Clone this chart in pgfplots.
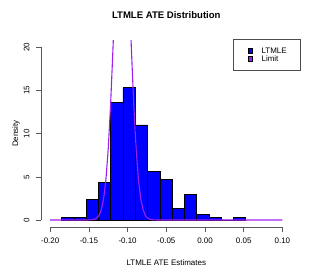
\documentclass[border=0pt]{standalone}
\usepackage{fontspec}
\setmainfont{Liberation Sans}
\usepackage{pgfplots}
\pgfplotsset{compat=1.18}
\definecolor{rpurple}{HTML}{A020F0}
\begin{document}
\begin{tikzpicture}
\useasboundingbox (0,0) rectangle (313bp,278bp);
\begin{axis}[
  at={(40.9bp,51.1bp)}, anchor=south west,
  scale only axis, width=250.8bp, height=186.6bp,
  xmin=-0.212, xmax=0.112, ymin=-0.8, ymax=20.8,
  clip mode=individual,
  axis line style={draw=none},
  xtick={-0.2,-0.15,-0.1,-0.05,0,0.05,0.1},
  ytick={0,5,10,15,20},
  xtick pos=bottom, ytick pos=left, tick align=outside,
  major tick length=5bp,
  tick style={black!65, line width=0.5pt},
  /pgf/number format/assume math mode=true,
  x tick label style={/pgf/number format/.cd, fixed, fixed zerofill, precision=2, /tikz/.cd, yshift=-3bp},
  every tick label/.append style={font=\fontsize{8}{9}\selectfont},
  yticklabel style={xshift=-3bp, rotate=90, anchor=south},
  xlabel={LTMLE ATE Estimates}, ylabel={Density},
  title={LTMLE ATE Distribution},
  label style={font=\fontsize{8}{9}\selectfont},
  xlabel style={at={(axis description cs:0.5,-0.19)}, anchor=center},
  ylabel style={at={(axis description cs:-0.0993,0.5)}, anchor=center},
  title style={at={(axis description cs:0.5,1.105)}, anchor=center, font=\fontsize{9.6}{11}\selectfont\bfseries},
  legend style={at={(axis description cs:1.037,1.007)}, anchor=north east,
    draw=black!70, line width=0.5pt, inner xsep=14bp, inner ysep=8.5bp,
    font=\fontsize{8}{9}\selectfont,
    nodes={inner sep=0pt, anchor=west, text height=5.8bp, text depth=0pt},
    column sep=9bp, row sep=2.5bp},
]
\addplot[ybar interval, fill=blue, draw=black, line width=0.5pt, forget plot] coordinates {
(-0.1852,0.31) (-0.1694,0.31) (-0.1535,2.36) (-0.1377,4.32) (-0.1218,13.62)
(-0.1060,15.31) (-0.0901,11.0) (-0.0743,5.67) (-0.0584,4.67) (-0.0426,1.31)
(-0.0267,2.97) (-0.0109,0.69) (0.0050,0.33) (0.0208,0) (0.0367,0.33) (0.0525,0)
};
\addplot[rpurple, line width=1.1bp, forget plot] coordinates {
(-0.200,0) (-0.152,0.002) (-0.149,0.0081) (-0.146,0.026) (-0.143,0.077)
(-0.140,0.209) (-0.137,0.517) (-0.134,1.177) (-0.131,2.456) (-0.128,4.70)
(-0.125,8.24) (-0.122,13.27) (-0.119,19.58) (-0.116,26.50) (-0.113,32.90)
(-0.110,37.46) (-0.107,39.11) (-0.104,37.46) (-0.101,32.90) (-0.098,26.50)
(-0.095,19.58) (-0.092,13.27) (-0.089,8.24) (-0.086,4.70) (-0.083,2.456)
(-0.080,1.177) (-0.077,0.517) (-0.074,0.209) (-0.071,0.077) (-0.068,0.026)
(-0.065,0.0081) (-0.062,0.002) (0.100,0)
};
\addlegendimage{legend image code/.code={\filldraw[draw=black, fill=blue, line width=0.4pt] (0bp,-2.25bp) rectangle (4.5bp,2.25bp);}}
\addlegendentry{LTMLE}
\addlegendimage{legend image code/.code={\filldraw[draw=black, fill=rpurple, line width=0.4pt] (0bp,-2.25bp) rectangle (4.5bp,2.25bp);}}
\addlegendentry{Limit}
\draw[black!65, line width=0.5pt] (axis cs:-0.2,-0.8) -- (axis cs:0.1,-0.8);
\draw[black!65, line width=0.5pt] (axis cs:-0.212,0) -- (axis cs:-0.212,20);
\end{axis}
\end{tikzpicture}
\end{document}
